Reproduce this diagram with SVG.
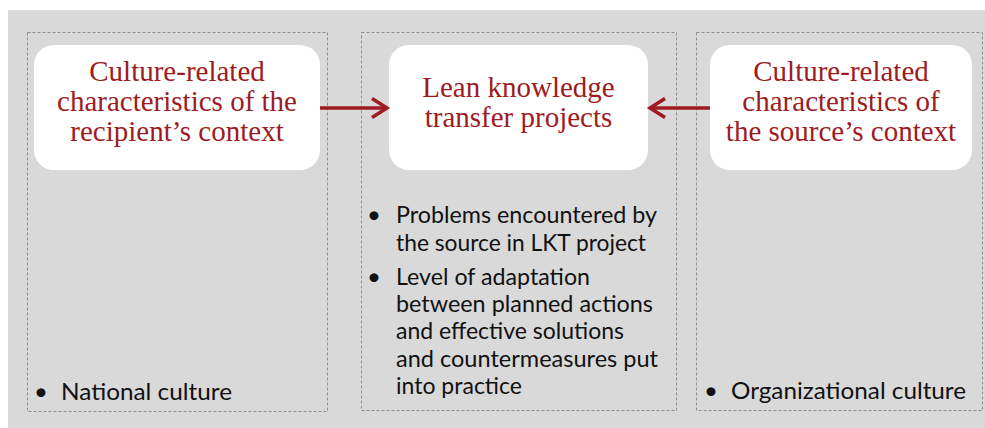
<svg xmlns="http://www.w3.org/2000/svg" width="985" height="428" viewBox="0 0 985 428">
<style>
.bg{fill:#d9d9d9}
.frame{fill:none;stroke:#8f8f8f;stroke-width:1;stroke-dasharray:3 2}
.card{fill:#ffffff}
.title{font-family:"Liberation Serif",serif;font-size:29px;fill:#9e1b22;text-anchor:middle}
.bul{font-family:Lato,"Liberation Sans",Arial,sans-serif;font-size:24px;fill:#111111}
.conn{fill:none;stroke:#9e1b22;stroke-width:3.5}
</style>
<defs>
<marker id="chev" markerUnits="userSpaceOnUse" markerWidth="24" markerHeight="24" viewBox="-18 -12 24 24" refX="0" refY="0" orient="auto">
<path d="M-15,-9.5 L0,0 L-15,9.5" fill="none" stroke="#9e1b22" stroke-width="3.5" stroke-linejoin="miter"/>
</marker>
</defs>
<rect class="bg" x="8" y="10" width="977" height="418"/>
<g id="recipient">
<rect class="frame" x="27.5" y="32.5" width="300" height="379"/>
<rect class="card" x="34" y="45" width="286" height="125" rx="20"/>
<text class="title" x="177" y="81">Culture-related</text>
<text class="title" x="177" y="111">characteristics of the</text>
<text class="title" x="177" y="141">recipient’s context</text>
<text class="bul" x="34" y="400">•</text>
<text class="bul" x="61" y="400" textLength="171" lengthAdjust="spacingAndGlyphs">National culture</text>
</g>
<g id="lkt">
<rect class="frame" x="361.5" y="32.5" width="315" height="378"/>
<rect class="card" x="389" y="45" width="259" height="125" rx="20"/>
<text class="title" x="518.5" y="97">Lean knowledge</text>
<text class="title" x="518.5" y="127">transfer projects</text>
<text class="bul" x="367" y="223">•</text>
<text class="bul" x="396" y="223" textLength="261" lengthAdjust="spacingAndGlyphs">Problems encountered by</text>
<text class="bul" x="396" y="251" textLength="250" lengthAdjust="spacingAndGlyphs">the source in LKT project</text>
<text class="bul" x="367" y="285">•</text>
<text class="bul" x="396" y="285" textLength="194" lengthAdjust="spacingAndGlyphs">Level of adaptation</text>
<text class="bul" x="396" y="312" textLength="257" lengthAdjust="spacingAndGlyphs">between planned actions</text>
<text class="bul" x="396" y="339" textLength="228" lengthAdjust="spacingAndGlyphs">and effective solutions</text>
<text class="bul" x="396" y="367" textLength="262" lengthAdjust="spacingAndGlyphs">and countermeasures put</text>
<text class="bul" x="396" y="394" textLength="126" lengthAdjust="spacingAndGlyphs">into practice</text>
</g>
<g id="source">
<rect class="frame" x="696.5" y="32.5" width="286" height="378"/>
<rect class="card" x="710" y="45" width="262" height="125" rx="20"/>
<text class="title" x="841" y="81">Culture-related</text>
<text class="title" x="841" y="111">characteristics of</text>
<text class="title" x="841" y="141">the source’s context</text>
<text class="bul" x="704" y="399">•</text>
<text class="bul" x="731" y="399" textLength="235" lengthAdjust="spacingAndGlyphs">Organizational culture</text>
</g>
<g id="connectors">
<line class="conn" x1="320" y1="108" x2="387" y2="108" marker-end="url(#chev)"/>
<line class="conn" x1="710" y1="108" x2="650" y2="108" marker-end="url(#chev)"/>
</g>
</svg>
